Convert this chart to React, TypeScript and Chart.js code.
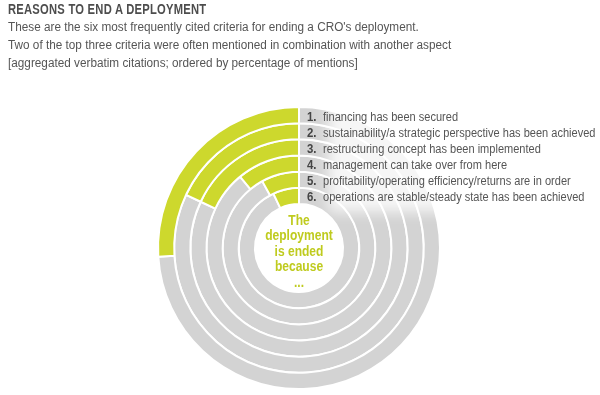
import React, { useEffect, useRef } from "react";
import { Chart, registerables } from "chart.js";

Chart.register(...registerables);

const TITLE = "REASONS TO END A DEPLOYMENT";
const SUBTITLE_LINES = [
  "These are the six most frequently cited criteria for ending a CRO's deployment.",
  "Two of the top three criteria were often mentioned in combination with another aspect",
  "[aggregated verbatim citations; ordered by percentage of mentions]",
];
const CRITERIA = [
  "financing has been secured",
  "sustainability/a strategic perspective has been achieved",
  "restructuring concept has been implemented",
  "management can take over from here",
  "profitability/operating efficiency/returns are in order",
  "operations are stable/steady state has been achieved",
];
const SHARES = [26, 18, 18, 11, 8, 7];
const TOTAL = 100;
const CENTER_LINES = ["The", "deployment", "is ended", "because", "..."];

const GREEN = "#cdd82d";
const GRAY = "#d3d3d3";
const CENTER_GREEN = "#bfcb1f";
const TEXT = "#555555";
const FONT = "'Liberation Sans', Arial, sans-serif";

function drawScaled(ctx: CanvasRenderingContext2D, text: string, x: number, y: number, sx: number) {
  ctx.save();
  ctx.translate(x, y);
  ctx.scale(sx, 1);
  ctx.fillText(text, 0, 0);
  ctx.restore();
}

const labelsPlugin = {
  id: "ringLabels",
  afterDatasetsDraw(chart: any) {
    const ctx = chart.ctx as CanvasRenderingContext2D;
    const metas = chart.data.datasets.map((_: any, i: number) => chart.getDatasetMeta(i));
    const a0 = metas[0].data[0];
    const cx = a0.x;
    const cy = a0.y;
    const top = cy - a0.outerRadius;
    const last = metas[metas.length - 1].data[0];
    const bottom = cy - last.innerRadius;

    // soft white veil behind the labels
    ctx.save();
    ctx.filter = "blur(7px)";
    ctx.fillStyle = "rgba(255,255,255,0.8)";
    ctx.fillRect(cx + 29, top - 14, 400, bottom - top + 22);
    ctx.restore();

    ctx.save();
    ctx.textBaseline = "alphabetic";
    ctx.textAlign = "left";
    metas.forEach((m: any, i: number) => {
      const arc = m.data[0];
      const y = cy - (arc.outerRadius + arc.innerRadius) / 2 + 5.5;
      ctx.fillStyle = "#444444";
      ctx.font = `bold 12px ${FONT}`;
      drawScaled(ctx, `${i + 1}.`, cx + 8, y, 0.95);
      ctx.fillStyle = TEXT;
      ctx.font = `12px ${FONT}`;
      drawScaled(ctx, CRITERIA[i], cx + 24, y, 0.92);
    });

    ctx.fillStyle = CENTER_GREEN;
    ctx.font = `bold 14px ${FONT}`;
    ctx.textAlign = "center";
    CENTER_LINES.forEach((t, i) => {
      drawScaled(ctx, t, cx, cy - 23 + i * 15.4, 0.86);
    });
    ctx.restore();
  },
};

export default function App() {
  const ref = useRef<HTMLCanvasElement | null>(null);
  useEffect(() => {
    if (!ref.current) return;
    const chart = new Chart(ref.current, {
      type: "doughnut",
      data: {
        labels: ["other", "mentions"],
        datasets: SHARES.map((v, i) => ({
          label: CRITERIA[i],
          data: [TOTAL - v, v],
          backgroundColor: [GRAY, GREEN],
          borderColor: "#ffffff",
          borderWidth: 2,
        })),
      },
      options: {
        responsive: false,
        maintainAspectRatio: false,
        animation: false,
        rotation: 0,
        circumference: 360,
        cutout: "31.2%",
        radius: 141,
        layout: { padding: { left: 158, right: 160, top: 107, bottom: 6 } },
        plugins: {
          legend: { display: false },
          tooltip: { enabled: false },
          title: { display: false },
        },
      },
      plugins: [labelsPlugin],
    });
    return () => chart.destroy();
  }, []);

  return (
    <div style={{ position: "absolute", left: 0, top: 0, width: 600, height: 395, background: "#fff" }}>
      <canvas ref={ref} width={600} height={395} style={{ display: "block", position: "absolute", left: 0, top: 0 }} />
      <div
        style={{
          position: "absolute",
          left: 8,
          top: 1,
          fontFamily: FONT,
          color: "#4d4d4d",
          whiteSpace: "nowrap",
          fontWeight: "bold",
          fontSize: 14,
          lineHeight: "17px",
          letterSpacing: 0.3,
          transform: "scaleX(0.8)",
          transformOrigin: "left top",
        }}
      >
        {TITLE}
      </div>
      {SUBTITLE_LINES.map((l, i) => (
        <div
          key={i}
          style={{
            position: "absolute",
            left: 8,
            top: 17.7 + i * 18,
            fontFamily: FONT,
            color: TEXT,
            whiteSpace: "nowrap",
            fontSize: 12,
            lineHeight: "18px",
            transform: "scaleX(0.98)",
            transformOrigin: "left top",
          }}
        >
          {l}
        </div>
      ))}
    </div>
  );
}
